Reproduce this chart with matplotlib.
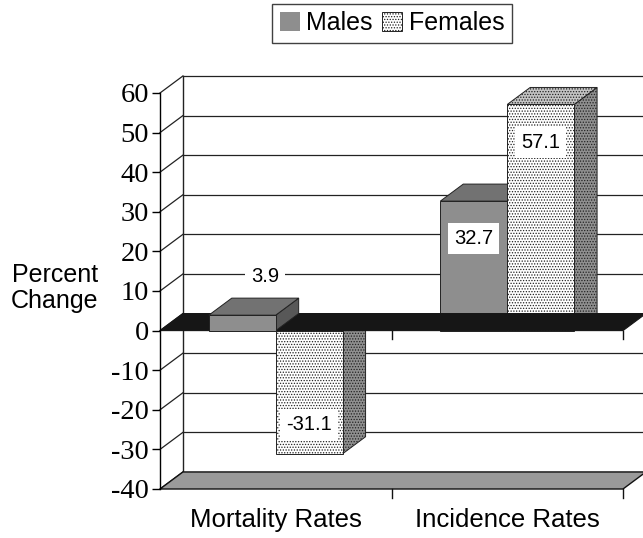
"""
Percent change in mortality and incidence rates by sex, drawn as a
pseudo-3D clustered column chart (Excel style) with plain matplotlib.
"""

import matplotlib
matplotlib.use("Agg")
import matplotlib.pyplot as plt  # noqa: E402
from matplotlib.patches import Polygon, Patch  # noqa: E402

# === DATA ===
CATEGORIES = ["Mortality Rates", "Incidence Rates"]
SERIES = ["Males", "Females"]
MALES = [3.9, 32.7]
FEMALES = [-31.1, 57.1]
YTICKS = [-40, -30, -20, -10, 0, 10, 20, 30, 40, 50, 60]

# === STYLE / GEOMETRY ===
DX, DY = 0.099, 4.3        # depth offset of the back wall (x units, y units)
BAR_W = 0.289
MALE_FACES = dict(front="#8e8e8e", top="#727272", side="#585858", hatch=None)
FEMALE_FACES = dict(front="#ffffff", top="#c4c4c4", side="#8f8f8f", hatch="......")
SANS = "Liberation Sans"
SERIF = "Liberation Serif"

plt.rcParams["hatch.linewidth"] = 0.6


def poly(ax, pts, fc, z, hatch=None, ec="#222222", lw=0.7):
    ax.add_patch(Polygon(pts, closed=True, facecolor=fc, edgecolor=ec,
                         linewidth=lw, hatch=hatch, zorder=z, clip_on=False))


def draw_bar(ax, x0, v, faces, z):
    x1 = x0 + BAR_W
    top = max(v, 0)
    poly(ax, [(x1, 0), (x1, v), (x1 + DX, v + DY), (x1 + DX, DY)],
         faces["side"], z, faces["hatch"])
    poly(ax, [(x0, top), (x1, top), (x1 + DX, top + DY), (x0 + DX, top + DY)],
         faces["top"], z, faces["hatch"])
    poly(ax, [(x0, 0), (x1, 0), (x1, v), (x0, v)],
         faces["front"], z, faces["hatch"])


def bar_label(ax, xc, v):
    if abs(v) < 10:
        x, y = xc + DX, v + DY + 5.4
    else:
        x, y = xc, v - 9.5 if v > 0 else v + 7.4
    ax.text(x, y, f"{v:.1f}", ha="center", va="center", fontsize=14.5,
            family=SANS, zorder=7,
            bbox=dict(boxstyle="square,pad=0.3", fc="white", ec="none"))


fig = plt.figure(figsize=(6.43, 5.38), dpi=100)
ax = fig.add_axes([160 / 643, 49 / 538, 463 / 643, 396 / 538])
ax.set_xlim(0, 2)
ax.set_ylim(-40, 60)
ax.patch.set_visible(False)
for s in ("top", "right", "bottom"):
    ax.spines[s].set_visible(False)
ax.spines["left"].set_linewidth(1.0)
ax.spines["left"].set_zorder(8)

# back wall gridlines and left wall
xr = len(CATEGORIES) + DX
for v in YTICKS:
    ax.plot([DX, xr], [v + DY, v + DY], color="#222222", lw=0.9, zorder=1,
            clip_on=False)
    ax.plot([0, DX], [v, v + DY], color="#222222", lw=0.9, zorder=1,
            clip_on=False)
ax.plot([DX, DX], [YTICKS[0] + DY, YTICKS[-1] + DY], color="#222222",
        lw=1.0, zorder=1, clip_on=False)

# floor
y0 = YTICKS[0]
poly(ax, [(0, y0), (2, y0), (2 + DX, y0 + DY), (DX, y0 + DY)], "#9a9a9a", 2,
     ec="#111111", lw=1.0)

# bars: negative and incidence bars sit under the black zero plane
groups = [i + 0.5 for i in range(len(CATEGORIES))]
draw_bar(ax, groups[0], FEMALES[0], FEMALE_FACES, 3)
draw_bar(ax, groups[1] - BAR_W, MALES[1], MALE_FACES, 3)
draw_bar(ax, groups[1], FEMALES[1], FEMALE_FACES, 3.5)
poly(ax, [(0, 0), (2, 0), (2 + DX, DY), (DX, DY)], "#161616", 4,
     ec="#161616", lw=0.8)
draw_bar(ax, groups[0] - BAR_W, MALES[0], MALE_FACES, 5)

for i, c in enumerate(groups):
    bar_label(ax, c - BAR_W / 2, MALES[i])
    bar_label(ax, c + BAR_W / 2, FEMALES[i])

# category separator ticks on the zero plane and on the floor
for xt in range(1, len(CATEGORIES) + 1):
    ax.plot([xt, xt], [0, -2.2], color="#111111", lw=1.0, zorder=6,
            clip_on=False)
    ax.plot([xt, xt], [y0, y0 - 2.2], color="#111111", lw=1.0, zorder=6,
            clip_on=False)

# axes ticks
ax.set_yticks(YTICKS)
ax.set_yticklabels([str(v) for v in YTICKS], family=SERIF, fontsize=20.5)
ax.tick_params(axis="y", direction="out", length=6, width=1.0, pad=2)
ax.set_xticks(groups)
ax.set_xticklabels(CATEGORIES, family=SANS, fontsize=18.5)
ax.tick_params(axis="x", length=0, pad=14)

fig.text(55 / 643, 1 - 288 / 538, "Percent\nChange", ha="center",
         va="center", fontsize=18, family=SANS, linespacing=1.15)

handles = [Patch(facecolor=MALE_FACES["front"], edgecolor="none"),
           Patch(facecolor="white", edgecolor="#222222", hatch="......",
                 linewidth=0.7)]
leg = fig.legend(handles, SERIES, loc="upper center",
                 bbox_to_anchor=(392 / 643, 1 - 4 / 538), ncol=2,
                 frameon=True, fancybox=False, edgecolor="#111111",
                 handlelength=0.8, handleheight=0.8, handletextpad=0.25,
                 columnspacing=0.4, borderpad=0.3, borderaxespad=0,
                 prop=dict(family=SANS, size=18))
leg.get_frame().set_linewidth(1.0)

fig.savefig("out.png", dpi=100)
